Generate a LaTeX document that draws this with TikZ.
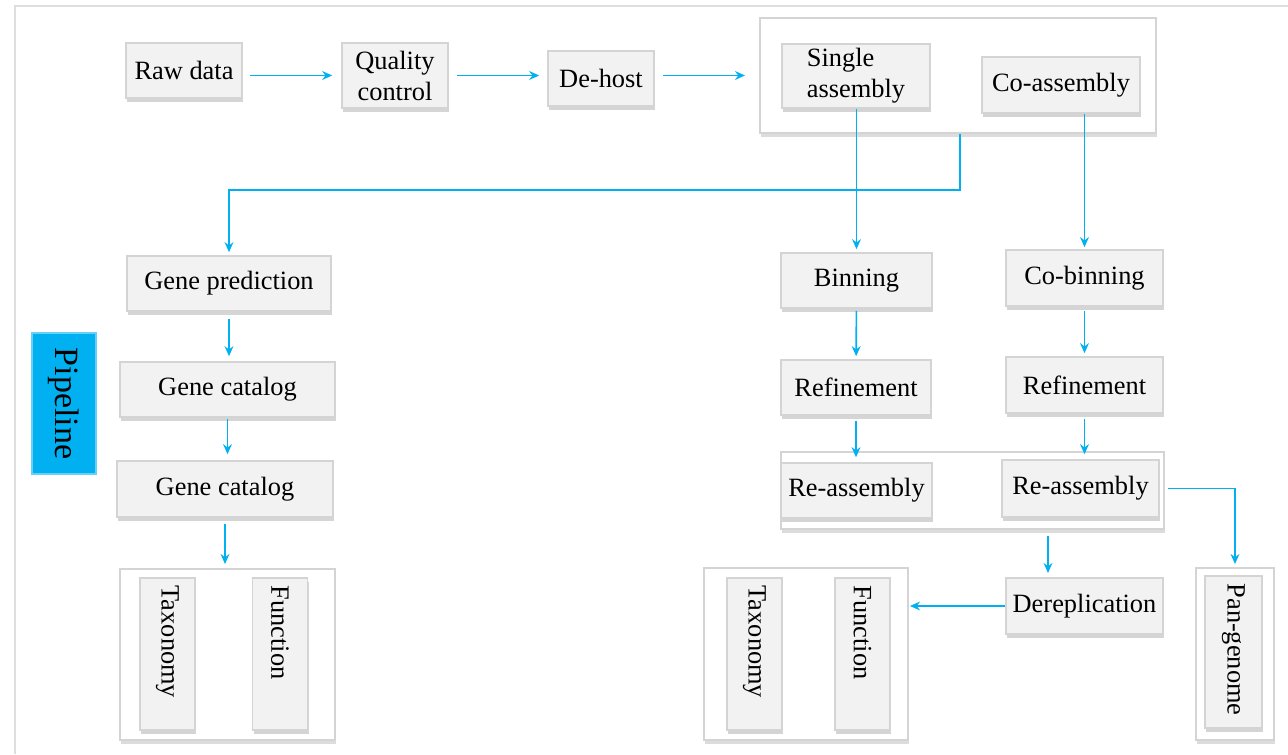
\documentclass[tikz,border=0pt]{standalone}
\usepackage{fontspec}
\setmainfont{Liberation Serif}
\usetikzlibrary{shadows}
\usetikzlibrary{arrows.meta}

\definecolor{flowblue}{RGB}{0,176,240}
\definecolor{boxgray}{RGB}{242,242,242}
\definecolor{edgegray}{RGB}{212,212,212}
\definecolor{framegray}{RGB}{222,222,222}

\begin{document}
\begin{tikzpicture}[%
  x=0.5pt, y=-0.5pt,
  >={Stealth[length=5pt, width=4.4pt]},
  font=\fontsize{13.2}{15.5}\selectfont,
  stepbox/.style={draw=edgegray, line width=0.8pt, fill=boxgray, inner sep=0pt, align=center,
    drop shadow={shadow xshift=0.5pt, shadow yshift=-1.8pt, fill=black!55, opacity=0.3}},
  groupbox/.style={draw=edgegray, line width=1pt, fill=white, inner sep=0pt,
    drop shadow={shadow xshift=0.5pt, shadow yshift=-1.8pt, fill=black!55, opacity=0.25}},
  vbox/.style={stepbox, minimum width=27.5pt, minimum height=76pt},
  flow/.style={draw=flowblue, line width=0.8pt, ->},
  vlabel/.style={rotate=-90, anchor=west, inner sep=4pt},
]

  \useasboundingbox (0,0) rectangle (1288,754);
  \draw[framegray, line width=1.2pt] (1288,6) -- (15,6) -- (15,754);

  \node[stepbox, minimum width=58pt, minimum height=27.5pt] (raw) at (184,70.5) {Raw data};
  \node[stepbox, minimum width=53pt, minimum height=32.5pt] (qc) at (395,75.5) {Quality\\control};
  \node[stepbox, minimum width=53pt, minimum height=27.5pt] (dehost) at (601,78.5) {De-host};

  \node[groupbox, minimum width=198pt, minimum height=57.5pt] (asm) at (958,75.5) {};
  \node[stepbox, minimum width=74pt, minimum height=32pt, align=left, xshift=-1.5pt, yshift=1pt] (single) at (859,78) {Single\\assembly};
  \node[stepbox, minimum width=79pt, minimum height=28pt] (coasm) at (1061,85) {Co-assembly};

  \node[fill=flowblue, draw=flowblue!60, line width=0.6pt, minimum width=32pt, minimum height=70.5pt] (pipe) at (64,403.5) {};
  \node[rotate=-90, font=\fontsize{17}{20}\selectfont] (pipetext) at (pipe) {Pipeline};

  \node[stepbox, minimum width=102pt, minimum height=27.5pt] (genepred) at (229,283.5) {Gene prediction};
  \node[stepbox, minimum width=107.5pt, minimum height=27.5pt] (catalogA) at (227.5,389.5) {Gene catalog};
  \node[stepbox, minimum width=108pt, minimum height=28pt] (catalogB) at (225,489) {Gene catalog};

  \node[groupbox, minimum width=107.5pt, minimum height=85.5pt] (annotA) at (227.5,654.5) {};
  \node[vbox] (taxA) at (167.5,654) {};
  \node[vbox] (funcA) at (280,654) {};
  \node[vlabel] (taxAtext) at (taxA.north) {Taxonomy};
  \node[vlabel] (funcAtext) at (funcA.north) {Function};

  \node[stepbox, minimum width=75.5pt, minimum height=27.5pt] (bin) at (856.5,280.5) {Binning};
  \node[stepbox, minimum width=78.5pt, minimum height=28pt] (cobin) at (1084.5,278) {Co-binning};
  \node[stepbox, minimum width=75pt, minimum height=27.5pt] (refineA) at (856,387.5) {Refinement};
  \node[stepbox, minimum width=78.5pt, minimum height=28pt] (refineB) at (1084.5,385) {Refinement};

  \node[groupbox, minimum width=191.5pt, minimum height=38.5pt] (reasm) at (972.5,490.5) {};
  \node[stepbox, minimum width=75.5pt, minimum height=27.5pt] (reasmA) at (856.5,490.5) {Re-assembly};
  \node[stepbox, minimum width=78.5pt, minimum height=28.5pt] (reasmB) at (1080.5,488.5) {Re-assembly};

  \node[stepbox, minimum width=78.5pt, minimum height=28pt] (derep) at (1084.5,606) {Dereplication};

  \node[groupbox, minimum width=102pt, minimum height=86pt] (annotB) at (806,654) {};
  \node[vbox] (taxB) at (754.5,654) {};
  \node[vbox] (funcB) at (862.5,654) {};
  \node[vlabel] (taxBtext) at (taxB.north) {Taxonomy};
  \node[vlabel] (funcBtext) at (funcB.north) {Function};

  \node[groupbox, minimum width=39pt, minimum height=86pt] (pangrp) at (1235,654) {};
  \node[vbox, minimum width=28.5pt] (pan) at (1233.5,652) {};
  \node[vlabel] (pantext) at (pan.north) {Pan-genome};

  \coordinate (bend) at (960,190);
  \coordinate (derepin) at (1048,578);

  \draw[flow, shorten <=3.5pt, shorten >=4.5pt] (raw.east |- qc) -- (qc.west);
  \draw[flow, shorten <=4pt, shorten >=4pt] (qc.east) -- (qc.east -| dehost.west);
  \draw[flow, shorten <=4pt, shorten >=7pt] (qc.east -| dehost.east) -- (qc.east -| asm.west);

  \draw[flow, shorten >=1.5pt] (asm.south -| bend) -- (bend) -| (genepred.north);
  \draw[flow, shorten >=1.5pt] (single.south -| bin.north) -- (bin.north);
  \draw[flow, shorten >=1pt] (cobin.north |- coasm.south) -- (cobin.north);

  \draw[flow, shorten <=3.5pt, shorten >=2.5pt] (genepred.south) -- (genepred.south |- catalogA.north);
  \draw[flow, shorten <=0.5pt, shorten >=3pt] (catalogA.south) -- (catalogA.south |- catalogB.north);
  \draw[flow, shorten <=3pt, shorten >=2pt] (catalogB.south) -- (catalogB.south |- annotA.north);

  \draw[flow, shorten <=1pt, shorten >=1.5pt] (bin) -- (refineA);
  \draw[flow, shorten <=2pt, shorten >=1.5pt] (cobin) -- (refineB);
  \draw[flow, shorten <=2.5pt, shorten >=2.5pt] (refineA.south) -- (refineA.south |- reasmA.north);
  \draw[flow, shorten <=2.5pt, shorten >=2.5pt] (refineB.south) -- (refineB.south |- reasmB.north);

  \draw[flow, shorten <=3pt, shorten >=2.5pt] (reasm.south -| derepin) -- (derepin);
  \draw[flow, shorten <=4pt, shorten >=1.5pt] (reasmB.east) -| (pangrp.north);
  \draw[flow, shorten >=0.5pt] (derep.west) -- (derep.west -| annotB.east);

\end{tikzpicture}
\end{document}
